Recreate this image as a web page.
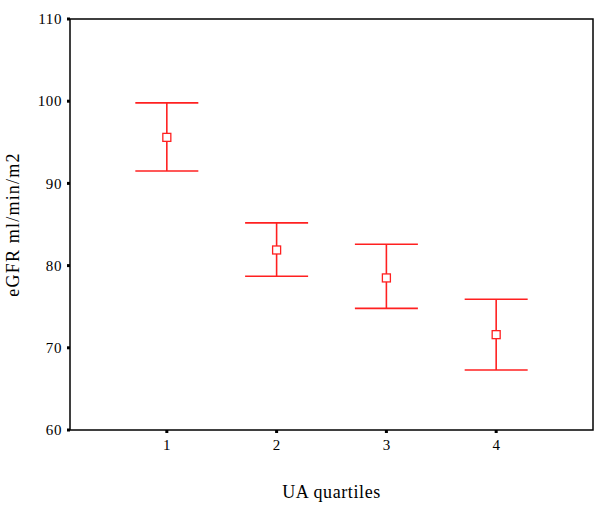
<!DOCTYPE html>
<html>
<head>
<meta charset="utf-8">
<script src="https://cdn.jsdelivr.net/npm/d3@7"></script>
<style>
  body { margin: 0; background: #fff; }
  svg { display: block; }
</style>
</head>
<body>
<div id="chart"></div>
<script>
// Data
const quartiles = [1, 2, 3, 4];
const means = [95.6, 81.9, 78.5, 71.6];
const upper = [99.8, 85.2, 82.6, 75.9];
const lower = [91.5, 78.7, 74.8, 67.3];
const yTicks = [60, 70, 80, 90, 100, 110];

const width = 600;
const height = 509;
const margin = { top: 19, right: 7, bottom: 79, left: 70 };

const svg = d3
  .select("#chart")
  .append("svg")
  .attr("width", width)
  .attr("height", height)
  .style("font-family", "'Liberation Serif', 'Times New Roman', serif");

const x = d3
  .scaleLinear()
  .domain([0.118, 4.882])
  .range([margin.left, width - margin.right]);

const y = d3
  .scaleLinear()
  .domain([60, 110])
  .range([height - margin.bottom, margin.top]);

const red = "#ff2020";

// Frame
svg
  .append("rect")
  .attr("x", margin.left)
  .attr("y", margin.top)
  .attr("width", width - margin.left - margin.right)
  .attr("height", height - margin.top - margin.bottom)
  .attr("fill", "none")
  .attr("stroke", "#000")
  .attr("stroke-width", 1.5);

// Y axis ticks (small square marks)
svg
  .selectAll(".ytick")
  .data(yTicks)
  .enter()
  .append("rect")
  .attr("x", margin.left - 3)
  .attr("y", (d) => y(d) - 1.5)
  .attr("width", 3)
  .attr("height", 3)
  .attr("fill", "#000");

svg
  .selectAll(".ylab")
  .data(yTicks)
  .enter()
  .append("text")
  .attr("x", margin.left - 8)
  .attr("y", (d) => y(d))
  .attr("dy", "0.35em")
  .attr("text-anchor", "end")
  .style("font-size", "15px")
  .style("letter-spacing", "0.6px")
  .text((d) => d);

// X axis ticks
svg
  .selectAll(".xtick")
  .data(quartiles)
  .enter()
  .append("rect")
  .attr("x", (d) => x(d) - 1.5)
  .attr("y", y(60))
  .attr("width", 3)
  .attr("height", 3)
  .attr("fill", "#000");

svg
  .selectAll(".xlab")
  .data(quartiles)
  .enter()
  .append("text")
  .attr("x", (d) => x(d))
  .attr("y", y(60) + 20)
  .attr("text-anchor", "middle")
  .style("font-size", "15px")
  .text((d) => d);

// Axis titles
svg
  .append("text")
  .attr("x", (margin.left + width - margin.right) / 2)
  .attr("y", 498)
  .attr("text-anchor", "middle")
  .style("font-size", "18px")
  .style("letter-spacing", "0.6px")
  .text("UA quartiles");

svg
  .append("text")
  .attr("transform", `translate(19, ${(margin.top + height - margin.bottom) / 2}) rotate(-90)`)
  .attr("text-anchor", "middle")
  .style("font-size", "18px")
  .style("letter-spacing", "1.2px")
  .text("eGFR ml/min/m2");

// Error bars
const capHalf = 31.5;
const bars = svg
  .selectAll(".bar")
  .data(quartiles.map((q, i) => ({ q, mean: means[i], hi: upper[i], lo: lower[i] })))
  .enter()
  .append("g")
  .attr("stroke", red)
  .attr("stroke-width", 1.6)
  .attr("fill", "none");

bars
  .append("line")
  .attr("x1", (d) => x(d.q))
  .attr("x2", (d) => x(d.q))
  .attr("y1", (d) => y(d.hi))
  .attr("y2", (d) => y(d.lo));

bars
  .append("line")
  .attr("x1", (d) => x(d.q) - capHalf)
  .attr("x2", (d) => x(d.q) + capHalf)
  .attr("y1", (d) => y(d.hi))
  .attr("y2", (d) => y(d.hi));

bars
  .append("line")
  .attr("x1", (d) => x(d.q) - capHalf)
  .attr("x2", (d) => x(d.q) + capHalf)
  .attr("y1", (d) => y(d.lo))
  .attr("y2", (d) => y(d.lo));

bars
  .append("rect")
  .attr("x", (d) => x(d.q) - 4)
  .attr("y", (d) => y(d.mean) - 4)
  .attr("width", 8)
  .attr("height", 8)
  .attr("fill", "#fff")
  .attr("stroke-width", 1.3);
</script>
</body>
</html>
